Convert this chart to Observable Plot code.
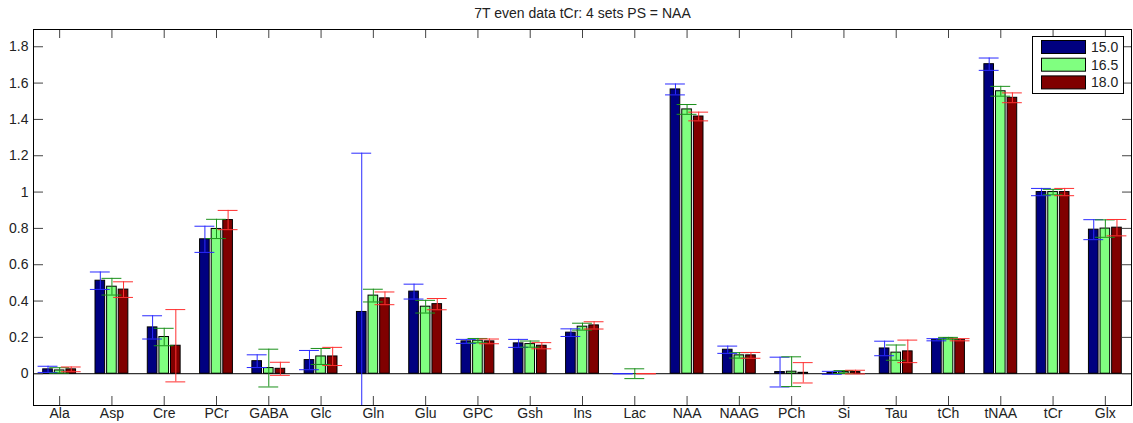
<!DOCTYPE html>
<html>
<head>
<meta charset="utf-8">
<script src="https://cdn.jsdelivr.net/npm/d3@7"></script>
<script src="https://cdn.jsdelivr.net/npm/@observablehq/plot@0.6"></script>
<style>
  html, body { margin: 0; padding: 0; background: white; }
  #chart { width: 1133px; height: 423px; }
</style>
</head>
<body>
<div id="chart"></div>
<script>
const title = "7T even data tCr: 4 sets PS = NAA";
const categories = ["Ala","Asp","Cre","PCr","GABA","Glc","Gln","Glu","GPC","Gsh","Ins","Lac","NAA","NAAG","PCh","Si","Tau","tCh","tNAA","tCr","Glx"];
const seriesNames = ["15.0", "16.5", "18.0"];
const barColors = ["#000080", "#80ff80", "#800000"];
const errColors = ["#2a2aff", "#1a901a", "#ff3030"];

const values150 = [0.024,0.512,0.255,0.740,0.069,0.075,0.340,0.452,0.178,0.167,0.226,0,1.565,0.132,0.009,0.005,0.139,0.187,1.704,1.000,0.793];
const values165 = [0.018,0.479,0.202,0.797,0.031,0.095,0.430,0.369,0.182,0.163,0.259,0,1.455,0.101,0.011,0.009,0.116,0.195,1.555,1.000,0.799];
const values180 = [0.024,0.463,0.154,0.846,0.027,0.095,0.415,0.383,0.178,0.154,0.266,0,1.416,0.101,0.005,0.009,0.123,0.187,1.519,1.000,0.804];

const errors150 = [0.017,0.048,0.064,0.072,0.035,0.053,0.874,0.041,0.011,0.022,0.021,0,0.030,0.020,0.082,0.008,0.040,0.006,0.034,0.020,0.055];
const errors165 = [0.015,0.046,0.048,0.053,0.104,0.044,0.035,0.035,0.012,0.017,0.019,0.027,0.027,0.015,0.082,0.008,0.042,0.005,0.027,0.015,0.048];
const errors180 = [0.013,0.043,0.199,0.053,0.036,0.050,0.035,0.031,0.013,0.017,0.020,0,0.024,0.016,0.056,0.010,0.062,0.006,0.027,0.020,0.045];

const yTicks = [0, 0.2, 0.4, 0.6, 0.8, 1, 1.2, 1.4, 1.6, 1.8];

// build table
const allValues = [values150, values165, values180];
const allErrors = [errors150, errors165, errors180];
const groupStep = 0.222, barHalf = 0.092, capHalf = 0.19;
const rows = [];
categories.forEach((c, i) => {
  for (let s = 0; s < 3; s++) {
    rows.push({
      cat: c,
      series: seriesNames[s],
      pos: i + 1 + (s - 1) * groupStep,
      v: allValues[s][i],
      e: allErrors[s][i],
      fill: barColors[s],
      ecol: errColors[s]
    });
  }
});
const xTicks = categories.map((c, i) => i + 1);

const W = 1133, H = 423, mL = 33, mR = 2, mT = 29, mB = 18;
const plotW = W - mL - mR, plotH = H - mT - mB;
const tickCol = "#444";

const chart = Plot.plot({
  width: W, height: H,
  marginLeft: mL, marginRight: mR, marginTop: mT, marginBottom: mB,
  x: {domain: [0.5, 21.5], axis: null},
  y: {domain: [-0.175, 1.895], axis: null},
  color: {type: "identity"},
  style: {fontFamily: "'Liberation Sans', Arial, Helvetica, sans-serif", fontSize: "14px", background: "white", color: "#222"},
  marks: [
    Plot.rectY(rows, {x1: d => d.pos - barHalf, x2: d => d.pos + barHalf, y1: 0, y2: "v", fill: "fill", stroke: "black", strokeWidth: 1}),
    Plot.ruleY([0], {stroke: "black", strokeWidth: 1}),
    Plot.ruleX(rows, {x: "pos", y1: d => d.v - d.e, y2: d => d.v + d.e, stroke: "ecol", strokeWidth: 1, clip: true}),
    Plot.ruleY(rows, {y: d => d.v + d.e, x1: d => d.pos - capHalf, x2: d => d.pos + capHalf, stroke: "ecol", strokeWidth: 1, clip: true}),
    Plot.ruleY(rows, {y: d => d.v - d.e, x1: d => d.pos - capHalf, x2: d => d.pos + capHalf, stroke: "ecol", strokeWidth: 1, clip: true}),
    Plot.tickY(yTicks, {y: d => d, insetRight: plotW - 10, stroke: tickCol}),
    Plot.tickY(yTicks, {y: d => d, insetLeft: plotW - 9, stroke: tickCol}),
    Plot.tickX(xTicks, {x: d => d, insetBottom: plotH - 9, stroke: tickCol}),
    Plot.tickX(xTicks, {x: d => d, insetTop: plotH - 9, stroke: tickCol}),
    Plot.frame({stroke: "black", strokeWidth: 1}),
    Plot.axisY({anchor: "left", ticks: yTicks, tickSize: 0, tickPadding: 5, label: null, tickFormat: d => String(+d.toFixed(1))}),
    Plot.axisX({anchor: "bottom", ticks: xTicks, tickSize: 0, tickPadding: 3, label: null, tickFormat: d => categories[d - 1]}),
    Plot.text([title], {text: d => d, frameAnchor: "top", dy: -12, lineAnchor: "bottom", fontSize: 14, fill: "#222"})
  ]
});
document.getElementById("chart").appendChild(chart);

// legend
const svg = d3.select(chart);
const lg = svg.append("g")
  .attr("font-family", "'Liberation Sans', Arial, Helvetica, sans-serif")
  .attr("font-size", 14)
  .attr("text-anchor", "start");
lg.append("rect").attr("x", 1032.5).attr("y", 36.5).attr("width", 91).attr("height", 57).attr("fill", "white").attr("stroke", "black");
seriesNames.forEach((name, s) => {
  const y0 = 40.5 + s * 17.7;
  lg.append("rect").attr("x", 1041.5).attr("y", y0).attr("width", 44).attr("height", 13).attr("fill", barColors[s]).attr("stroke", "black");
  lg.append("text").attr("x", 1091).attr("y", y0 + 6.5).attr("dy", "0.35em").attr("text-anchor", "start").attr("fill", "#222").text(name);
});
</script>
</body>
</html>
